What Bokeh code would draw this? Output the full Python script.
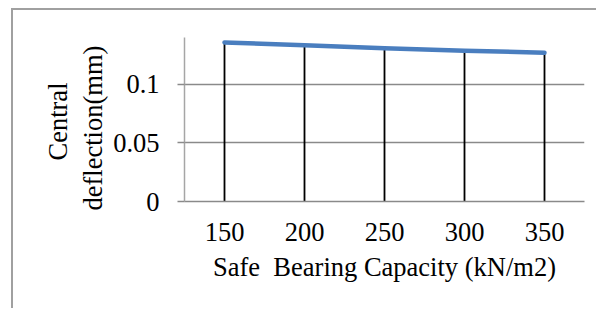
from bokeh.plotting import figure
from bokeh.models import Range1d, FixedTicker, Title
from bokeh.embed import file_html
from bokeh.resources import INLINE

# data
capacity = [150, 200, 250, 300, 350]
deflection = [0.1355, 0.1330, 0.1305, 0.1285, 0.1267]
y_ticks = [0, 0.05, 0.1]
y_tick_labels = {0: "0", 0.05: "0.05", 0.1: "0.1"}
x_title = "Safe \u00a0Bearing Capacity (kN/m2)"
y_title_inner = "deflection(mm)"
y_title_outer = "Central"

FONT = "Liberation Serif"
FS = "26.5px"
GRAY = "#8a8a8a"
EDGE = "#a0a0a0"

p = figure(width=585, height=300, output_backend="svg", toolbar_location=None,
           x_range=Range1d(125, 375), y_range=Range1d(0, 0.1397),
           min_border_left=173, min_border_right=12, min_border_top=29, min_border_bottom=107)
p.styles = {
    "position": "relative", "left": "11px", "top": "8px",
    "background": (f"linear-gradient({EDGE},{EDGE}) 0 0 / 100% 2px no-repeat, "
                   f"linear-gradient({EDGE},{EDGE}) 0 0 / 2px 100% no-repeat, white"),
}
p.outline_line_color = None
p.background_fill_color = "white"
p.border_fill_color = None

# grids
p.xgrid.grid_line_color = None
p.ygrid.ticker = FixedTicker(ticks=y_ticks)
p.ygrid.grid_line_color = GRAY
p.ygrid.grid_line_width = 1.5

# x axis
p.xaxis.ticker = FixedTicker(ticks=capacity)
p.xaxis.axis_line_color = GRAY
p.xaxis.axis_line_width = 1.5
p.xaxis.major_tick_line_color = None
p.xaxis.minor_tick_line_color = None
p.xaxis.major_label_text_font = FONT
p.xaxis.major_label_text_font_size = FS
p.xaxis.major_label_text_color = "black"
p.xaxis.major_label_standoff = 15
p.xaxis.axis_label = x_title
p.xaxis.axis_label_text_font = FONT
p.xaxis.axis_label_text_font_size = FS
p.xaxis.axis_label_text_font_style = "normal"
p.xaxis.axis_label_text_color = "black"
p.xaxis.axis_label_standoff = 8

# y axis
p.yaxis.ticker = FixedTicker(ticks=y_ticks)
p.yaxis.major_label_overrides = y_tick_labels
p.yaxis.axis_line_color = "#a6a6a6"
p.yaxis.axis_line_width = 1.5
p.yaxis.major_tick_line_color = GRAY
p.yaxis.major_tick_line_width = 1.5
p.yaxis.major_tick_out = 7
p.yaxis.major_tick_in = 0
p.yaxis.minor_tick_line_color = None
p.yaxis.major_label_text_font = FONT
p.yaxis.major_label_text_font_size = FS
p.yaxis.major_label_text_color = "black"
p.yaxis.major_label_standoff = 18

# drop lines
p.segment(x0=capacity, y0=[0] * len(capacity), x1=capacity, y1=deflection,
          line_color="black", line_width=1.8)
# series line
p.line(capacity, deflection, line_color="#4a7ebf", line_width=4.5,
       line_cap="round", line_join="round")

# y axis title (two rotated lines)
for txt, off, so in [(y_title_inner, -9, 6), (y_title_outer, 41, 0)]:
    p.add_layout(Title(text=txt, align="left", offset=off, standoff=so,
                       text_font=FONT, text_font_size=FS, text_font_style="normal",
                       text_color="black"), "left")

open("out.html", "w").write(file_html(p, INLINE))
